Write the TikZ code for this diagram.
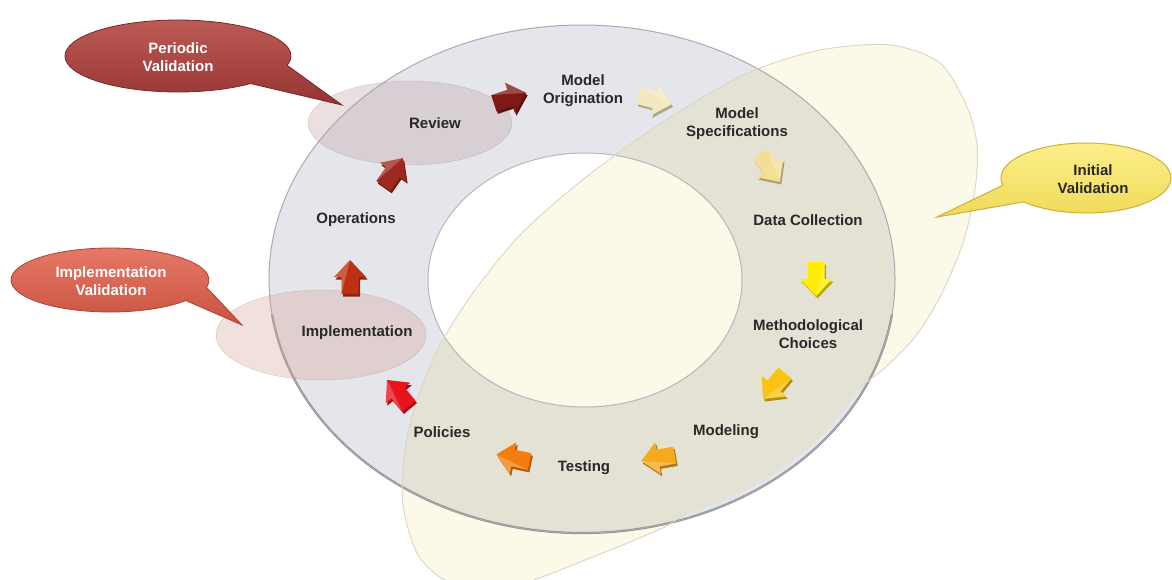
\documentclass[tikz,border=0pt]{standalone}
\usepackage{fontspec}
\setmainfont{Liberation Sans}
\usetikzlibrary{shapes.geometric}
\definecolor{ringblue}{RGB}{228,230,236}
\definecolor{ringbeige}{RGB}{228,226,213}
\definecolor{cream}{RGB}{252,249,232}
\definecolor{creamedge}{RGB}{218,214,196}
\definecolor{ringedge}{RGB}{168,171,176}
\definecolor{ringshadow}{RGB}{140,142,140}
\definecolor{hlcol}{RGB}{190,160,160}
\definecolor{hlcolb}{RGB}{214,160,148}
\definecolor{pvtop}{RGB}{190,92,88}
\definecolor{pvbot}{RGB}{150,52,50}
\definecolor{pvedge}{RGB}{120,40,38}
\definecolor{ivtop}{RGB}{232,122,104}
\definecolor{ivbot}{RGB}{200,82,64}
\definecolor{ivedge}{RGB}{170,66,52}
\definecolor{yvtop}{RGB}{252,240,140}
\definecolor{yvbot}{RGB}{240,218,90}
\definecolor{yvedge}{RGB}{205,175,60}
\definecolor{txt}{RGB}{40,40,40}
\definecolor{arA}{RGB}{243,232,190}
\definecolor{arB}{RGB}{244,222,150}
\definecolor{arC}{RGB}{255,238,0}
\definecolor{arD}{RGB}{250,195,20}
\definecolor{arE}{RGB}{246,168,30}
\definecolor{arF}{RGB}{243,125,15}
\definecolor{arG}{RGB}{232,20,27}
\definecolor{arH}{RGB}{190,48,20}
\definecolor{arI}{RGB}{160,40,30}
\definecolor{arJ}{RGB}{126,26,22}
\newcommand\stagearrow[4]{%
  \begin{scope}[shift={(#1+1.5,#2+2.5)},rotate=#3]
    \fill[#4!72!black] (-17,-8.5) -- (0,-8.5) -- (0,-16) -- (17,0) -- (0,16) -- (0,8.5) -- (-17,8.5) -- cycle;
  \end{scope}
  \begin{scope}[shift={(#1,#2)},rotate=#3]
    \fill[#4] (-17,-8.5) -- (0,-8.5) -- (0,-16) -- (17,0) -- (0,16) -- (0,8.5) -- (-17,8.5) -- cycle;
    \fill[white,opacity=.22] (-17,-8.5) -- (0,-8.5) -- (0,-16) -- (17,0) -- cycle;
  \end{scope}}
\newcommand\creampath{%
  (858.8,388.2) arc[start angle=26, end angle=70, x radius=308, y radius=249]
  -- plot[smooth, tension=0.5] coordinates {(665,527) (630,542) (595,556) (560,570) (528,582) (490,592) (448,582) (418,555) (403,505) (405,450) (417,400) (440,345) (475,290) (520,235) (570,190) (625,148) (685,108) (750,72) (820,50) (890,45) (940,63) (967,107) (977,145) (975,190) (963,243) (940,297) (915,337) (885,368)} -- cycle}
\begin{document}
\begin{tikzpicture}[x=1pt,y=-1pt,
  lbl/.style={font=\fontsize{15}{18}\selectfont\bfseries, text=txt, align=center, inner sep=0pt},
  hilite/.style={ellipse, inner sep=0pt, fill opacity=.32, draw opacity=.35, draw=hlcol!80!black}]
\useasboundingbox (0,0) rectangle (1172,579);
\clip (0,0) rectangle (1172,579);
\fill[white] (0,0) rectangle (1172,579);

% large cream shape
\fill[cream] (858.8,388.2) arc[start angle=26, end angle=70, x radius=308, y radius=249]
  -- plot[smooth, tension=0.5] coordinates {(665,527) (630,542) (595,556) (560,570) (528,582) (490,592) (448,582) (418,555) (403,505) (405,450) (417,400) (440,345) (475,290) (520,235) (570,190) (625,148) (685,108) (750,72) (820,50) (890,45) (940,63) (967,107) (977,145) (975,190) (963,243) (940,297) (915,337) (885,368)} -- cycle;

% ring
\fill[ringblue, even odd rule] (582,279) ellipse [x radius=313, y radius=254] (585,280) ellipse [x radius=157, y radius=127];
\begin{scope}
  \clip (858.8,388.2) arc[start angle=26, end angle=70, x radius=308, y radius=249]
  -- plot[smooth, tension=0.5] coordinates {(665,527) (630,542) (595,556) (560,570) (528,582) (490,592) (448,582) (418,555) (403,505) (405,450) (417,400) (440,345) (475,290) (520,235) (570,190) (625,148) (685,108) (750,72) (820,50) (890,45) (940,63) (967,107) (977,145) (975,190) (963,243) (940,297) (915,337) (885,368)} -- cycle;
  \fill[ringbeige, even odd rule] (582,279) ellipse [x radius=313, y radius=254] (585,280) ellipse [x radius=157, y radius=127];
\end{scope}
\draw[ringshadow, line width=2.2] (582,279) ++(8:313 and 254) arc[start angle=8, end angle=172, x radius=313, y radius=254];
\draw[ringedge, line width=1] (582,279) ellipse [x radius=313, y radius=254];
\draw[ringedge!85, line width=1] (585,280) ellipse [x radius=157, y radius=127];
\draw[creamedge, line width=0.9] (687.3,513) -- plot[smooth, tension=0.5] coordinates {(665,527) (630,542) (595,556) (560,570) (528,582) (490,592) (448,582) (418,555) (403,505) (405,450) (417,400) (440,345) (475,290) (520,235) (570,190) (625,148) (685,108) (750,72) (820,50) (890,45) (940,63) (967,107) (977,145) (975,190) (963,243) (940,297) (915,337) (885,368)} -- (858.8,388.2);

% highlight ellipses
\node[hilite, fill=hlcol, minimum width=204, minimum height=84] (hlrev) at (410,123) {};
\node[hilite, fill=hlcolb, minimum width=210, minimum height=90] (hlimp) at (321,335) {};

% stage arrows
\stagearrow{655}{100}{-15}{arA}
\stagearrow{770}{168}{-55}{arB}
\stagearrow{816}{279}{-90}{arC}
\stagearrow{774}{386}{-130}{arD}
\stagearrow{658}{458}{-170}{arE}
\stagearrow{513}{458}{168}{arF}
\stagearrow{398}{393}{130}{arG}
\stagearrow{350}{277}{90}{arH}
\stagearrow{393}{172}{55}{arI}
\stagearrow{510}{98}{18}{arJ}

% stage labels
\node[lbl] (morig) at (583,91) {Model\\Origination};
\node[lbl] (mspec) at (737,124) {Model\\Specifications};
\node[lbl] (dcol) at (808,220) {Data Collection};
\node[lbl] (mchoice) at (808,334) {Methodological\\Choices};
\node[lbl] (model) at (726,432) {Modeling};
\node[lbl] (test) at (584,468) {Testing};
\node[lbl] (pol) at (442,432) {Policies};
\node[lbl] (impl) at (357,333) {Implementation};
\node[lbl] (oper) at (356,220) {Operations};
\node[lbl] (rev) at (435,123) {Review};

% callouts
\coordinate (perTip) at (342,105);
\coordinate (impTip) at (242,325);
\coordinate (iniTip) at (937,217);
\path[draw=pvedge, line width=0.8, top color=pvtop, bottom color=pvbot]
  ([shift={(178,56)}]50:113 and 36) arc[start angle=50, end angle=375, x radius=113, y radius=36] -- (perTip) -- cycle;
\path[draw=ivedge, line width=0.8, top color=ivtop, bottom color=ivbot]
  ([shift={(110,280)}]40:99 and 32) arc[start angle=40, end angle=373, x radius=99, y radius=32] -- (impTip) -- cycle;
\path[draw=yvedge, line width=1, top color=yvtop, bottom color=yvbot]
  ([shift={(1086,178)}]168:85 and 35) arc[start angle=168, end angle=497, x radius=85, y radius=35] -- (iniTip) -- cycle;
\node[lbl, text=white] (cper) at (178,57) {Periodic\\Validation};
\node[lbl, text=white] (cimp) at (111,281) {Implementation\\Validation};
\node[lbl] (cini) at (1093,179) {Initial\\Validation};
\end{tikzpicture}
\end{document}
